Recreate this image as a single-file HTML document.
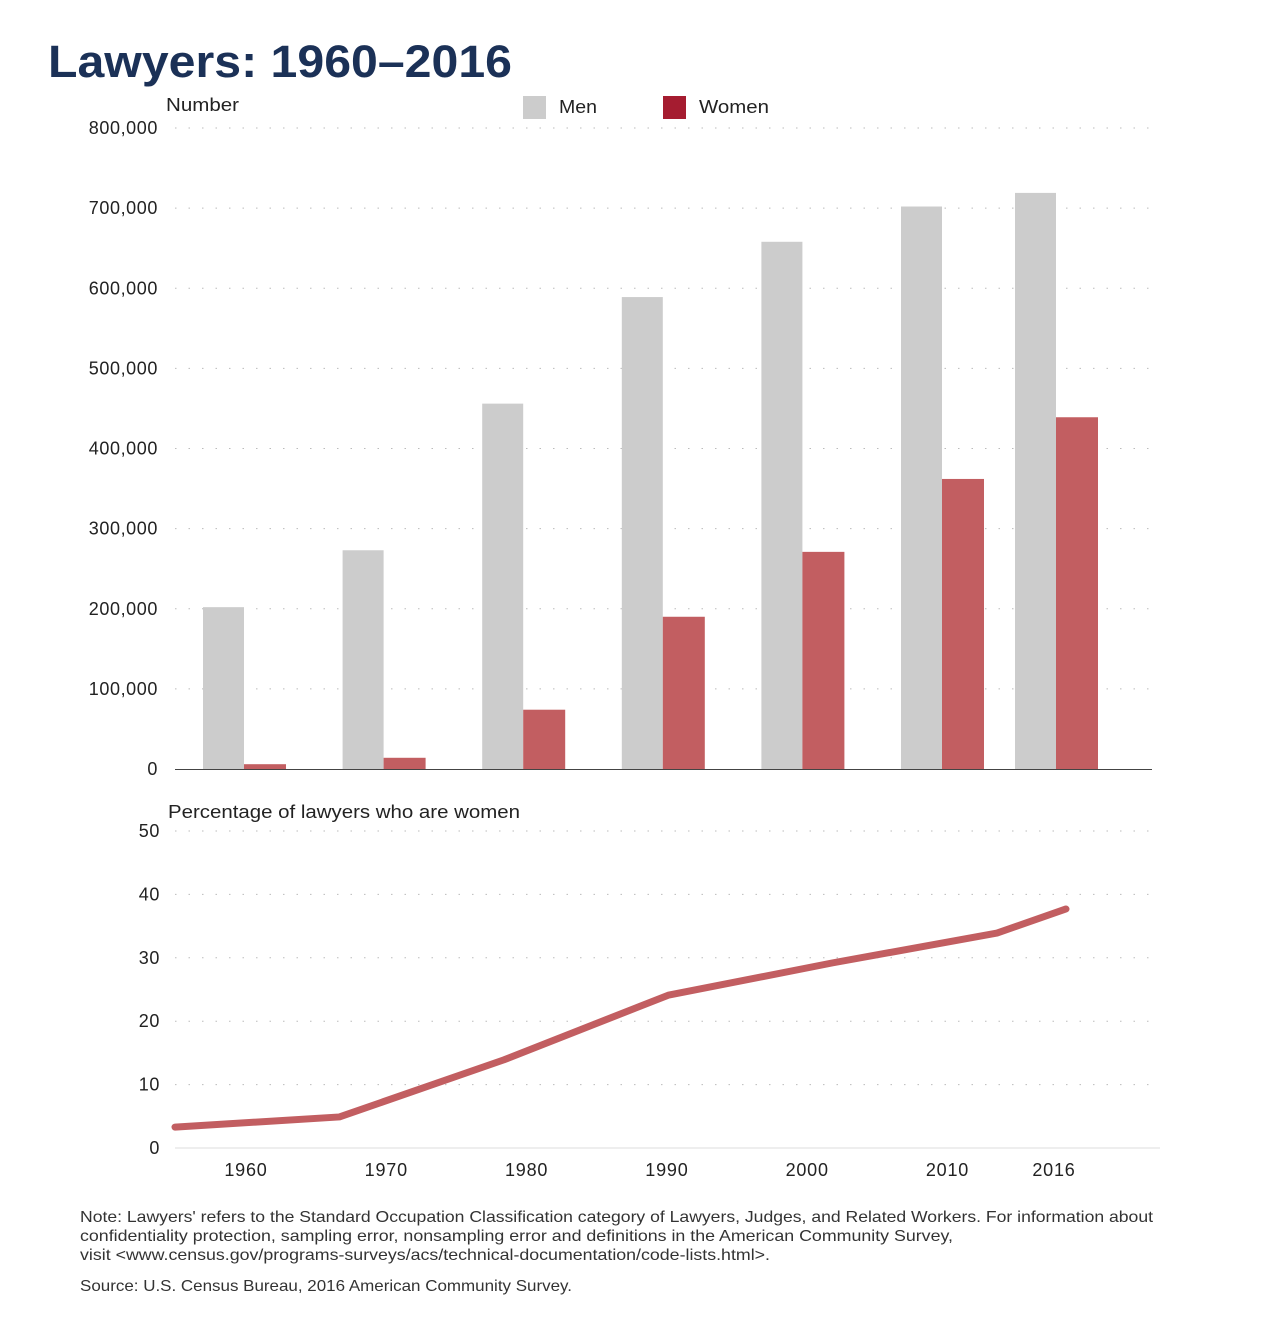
<!DOCTYPE html>
<html><head><meta charset="utf-8"><style>
body{margin:0;background:#fff;font-family:"Liberation Sans",sans-serif;}
svg text{font-family:"Liberation Sans",sans-serif;}
</style></head><body>
<svg id="c" width="1280" height="1328" viewBox="0 0 1280 1328" xmlns="http://www.w3.org/2000/svg">
<text x="48" y="77" font-size="45" font-weight="bold" fill="#1b3157" textLength="464" lengthAdjust="spacingAndGlyphs">Lawyers: 1960–2016</text>
<text x="166" y="111" font-size="18" fill="#222" textLength="73" lengthAdjust="spacingAndGlyphs">Number</text>
<rect x="523" y="96" width="23" height="23" fill="#cccccc"/>
<text x="559" y="113" font-size="18" fill="#222" textLength="38" lengthAdjust="spacingAndGlyphs">Men</text>
<rect x="663" y="96" width="23" height="23" fill="#a51c30"/>
<text x="699" y="113" font-size="18" fill="#222" textLength="70" lengthAdjust="spacingAndGlyphs">Women</text>
<text x="168" y="818" font-size="18" fill="#222" textLength="352" lengthAdjust="spacingAndGlyphs">Percentage of lawyers who are women</text>
<text x="80" y="1222" font-size="16" fill="#333" textLength="1073" lengthAdjust="spacingAndGlyphs">Note: Lawyers' refers to the Standard Occupation Classification category of Lawyers, Judges, and Related Workers. For information about</text>
<text x="80" y="1241" font-size="16" fill="#333" textLength="873" lengthAdjust="spacingAndGlyphs">confidentiality protection, sampling error, nonsampling error and definitions in the American Community Survey,</text>
<text x="80" y="1260" font-size="16" fill="#333" textLength="690" lengthAdjust="spacingAndGlyphs">visit &lt;www.census.gov/programs-surveys/acs/technical-documentation/code-lists.html&gt;.</text>
<text x="80" y="1291" font-size="16" fill="#333" textLength="492" lengthAdjust="spacingAndGlyphs">Source: U.S. Census Bureau, 2016 American Community Survey.</text>
</svg>
<script>
const years=[1960,1970,1980,1990,2000,2010,2016];
const men=[202000,273000,456000,589000,658000,702000,719000];
const women=[6000,14000,74000,190000,271000,362000,439000];
const barTicks=[0,100000,200000,300000,400000,500000,600000,700000,800000];
const pctYears=[1960,1970,1980,1990,2000,2010,2016];
const pct=[3.3,4.9,13.9,24.1,29.2,33.9,37.7];
const pctTicks=[0,10,20,30,40,50];
const xLabels=["1960","1970","1980","1990","2000","2010","2016"];
const svg=document.getElementById('c');const NS="http://www.w3.org/2000/svg";
function mk(t,a){const e=document.createElementNS(NS,t);for(const k in a)e.setAttribute(k,a[k]);svg.appendChild(e);return e;}
function yB(v){return 769-v*(641/800000);}
function xB(yr){return yr<=2010?244+(yr-1960)*13.96:942+(yr-2010)*19;}
function yL(v){return 1148-v*6.34;}
function xL(yr){return yr<=2010?175+(yr-1960)*16.44:997+(yr-2010)*11.5;}
function xLab(yr){return yr<=2010?246+(yr-1960)*14.03:949+(yr-2010)*17.5;}
barTicks.forEach(t=>{
 if(t>0){const g=mk('line',{x1:175,x2:1152,y1:yB(t),y2:yB(t),stroke:'#bbb','stroke-dasharray':'1.5,12'});
 
 }
 const tx=mk('text',{x:158,y:yB(t)+6,'font-size':18,'letter-spacing':'0.6','text-anchor':'end',fill:'#222'});tx.textContent=t.toLocaleString('en-US');
 
 
});
years.forEach((yr,i)=>{
 const c=xB(yr);
 const m=mk('rect',{x:c-41,y:yB(men[i]),width:41,height:yB(0)-yB(men[i]),fill:'#cccccc'});
 
 
 const w=mk('rect',{x:c,y:yB(women[i]),width:42,height:yB(0)-yB(women[i]),fill:'#c25e61'});
 
 
});
const base=mk('line',{x1:175,x2:1152,y1:769.5,y2:769.5,stroke:'#444','stroke-width':1});


pctTicks.forEach(t=>{
 const g=mk('line',{x1:175,x2:1160,y1:yL(t),y2:yL(t),stroke:t?'#bbb':'#ddd','stroke-dasharray':t?'1.5,12':'none'});
 
 
 const tx=mk('text',{x:160,y:yL(t)+6,'font-size':18,'letter-spacing':'0.6','text-anchor':'end',fill:'#222'});tx.textContent=t;
 
 
});
xLabels.forEach((l,i)=>{
 const tx=mk('text',{x:xLab(years[i]),y:1176,'font-size':18,'letter-spacing':'0.8','text-anchor':'middle',fill:'#222'});tx.textContent=l;
 
 
});
const pl=mk('polyline',{points:pctYears.map((y,i)=>xL(y)+','+yL(pct[i])).join(' '),fill:'none',stroke:'#c25e61','stroke-width':7,'stroke-linecap':'round','stroke-linejoin':'round'});


</script>
</body></html>
